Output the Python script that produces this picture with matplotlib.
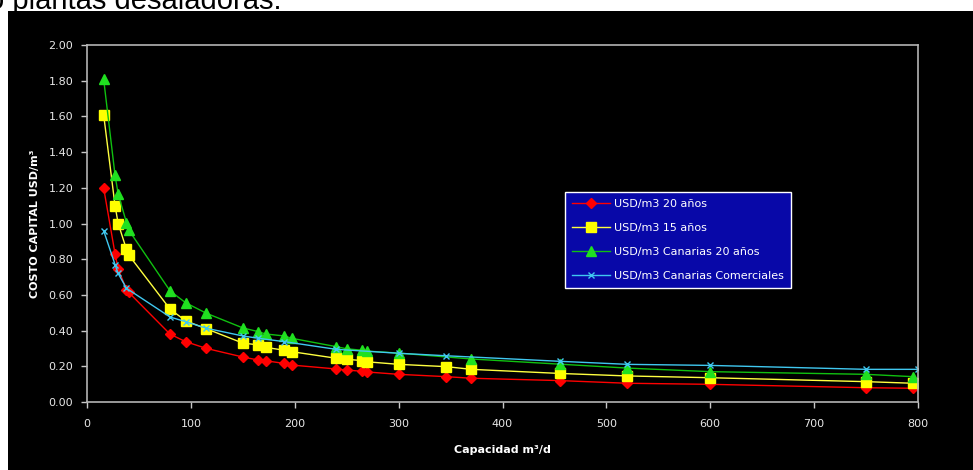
import matplotlib.pyplot as plt
from matplotlib.patches import Rectangle

# Capital cost of desalination plants against plant capacity.

cap_main = [16, 27, 30, 38, 40, 80, 95, 115, 150, 165, 172, 190, 197,
            240, 250, 265, 270, 300, 346, 370, 455, 520, 600, 750, 795]
usd_20 = [1.20, 0.83, 0.745, 0.63, 0.615, 0.38, 0.338, 0.30, 0.252, 0.235, 0.231, 0.216, 0.207,
          0.185, 0.179, 0.172, 0.168, 0.155, 0.142, 0.133, 0.12, 0.105, 0.099, 0.08, 0.077]
usd_15 = [1.61, 1.10, 1.00, 0.855, 0.825, 0.52, 0.455, 0.41, 0.33, 0.32, 0.306, 0.29, 0.282,
          0.245, 0.239, 0.232, 0.225, 0.211, 0.198, 0.183, 0.16, 0.146, 0.136, 0.114, 0.105]

cap_green = [16, 27, 30, 38, 40, 80, 95, 115, 150, 165, 172, 190, 197,
             240, 250, 265, 270, 300, 370, 455, 520, 600, 750, 795]
canarias_20 = [1.81, 1.27, 1.165, 1.005, 0.965, 0.622, 0.556, 0.497, 0.415, 0.394, 0.381, 0.37, 0.357,
               0.31, 0.298, 0.29, 0.285, 0.274, 0.241, 0.212, 0.19, 0.17, 0.155, 0.142]

cap_cyan = [16, 27, 30, 38, 80, 95, 115, 150, 165, 190, 240, 300, 346, 455, 520, 600, 750, 800]
canarias_com = [0.96, 0.77, 0.72, 0.637, 0.476, 0.45, 0.413, 0.37, 0.357, 0.338, 0.295, 0.273,
                0.259, 0.228, 0.211, 0.205, 0.183, 0.183]

x_ticks = [0, 100, 200, 300, 400, 500, 600, 700, 800]
y_ticks = [0.0, 0.2, 0.4, 0.6, 0.8, 1.0, 1.2, 1.4, 1.6, 1.8, 2.0]

plt.rcParams['font.family'] = ['DejaVu Sans']

W, H = 973, 470
fig = plt.figure(figsize=(W / 100, H / 100), dpi=100, facecolor='white')

# Cut-off heading text, then the black chart panel drawn over its bottom.
fig.text(282 / W, (H - 9) / H, 'o plantas desaladoras.', ha='right', va='baseline',
         fontsize=21, color='black', family=['Liberation Sans', 'DejaVu Sans'], zorder=-2)
fig.patches.append(Rectangle((8 / W, 0), 1 - 8 / W, (H - 11) / H,
                             transform=fig.transFigure, facecolor='black',
                             edgecolor='none', zorder=-1))

ax = fig.add_axes([87 / W, (H - 402) / H, (918 - 87) / W, (402 - 45) / H])
ax.set_zorder(1)
ax.set_facecolor('black')

ax.plot(cap_main, usd_20, color='#ff0000', lw=1, marker='D', ms=5.5,
        label='USD/m3 20 años')
ax.plot(cap_main, usd_15, color='#ffff40', lw=1, marker='s', ms=6.5,
        mfc='#ffff00', mec='#ffff00', label='USD/m3 15 años')
ax.plot(cap_green, canarias_20, color='#10c010', lw=1, marker='^', ms=7,
        mfc='#20e020', mec='#20e020', label='USD/m3 Canarias 20 años')
ax.plot(cap_cyan, canarias_com, color='#40c8f0', lw=1, marker='x', ms=5,
        mew=1, label='USD/m3 Canarias Comerciales')

# Axis ranges and ticks.
ax.set_xlim(0, 800)
ax.set_ylim(0, 2.0)
ax.set_xticks(x_ticks)
ax.set_yticks(y_ticks)
ax.set_yticklabels([f'{v:.2f}' for v in y_ticks])
ax.tick_params(colors='#c8c8c8', labelcolor='#e8e8e8', labelsize=8,
               direction='out', length=4, width=1)
ax.tick_params(axis='x', pad=8)
ax.tick_params(axis='y', pad=6)
for side in ['left', 'bottom', 'top', 'right']:
    ax.spines[side].set_color('#b4b4b4')
    ax.spines[side].set_linewidth(1.2)

ax.set_xlabel('Capacidad m³/d', fontsize=8, fontweight='bold', color='white', labelpad=12)
ax.set_ylabel('COSTO CAPITAL USD/m³', fontsize=8, fontweight='bold', color='white', labelpad=6)

leg = ax.legend(loc='upper left', bbox_to_anchor=((565 - 87) / 831, (402 - 192) / 357),
                fontsize=8, frameon=True, fancybox=False, facecolor='#0808a8',
                edgecolor='white', labelcolor='white', handlelength=3.4,
                labelspacing=1.25, borderpad=0.65, handletextpad=0.35, borderaxespad=0)
leg.get_frame().set_linewidth(1)
leg.get_frame().set_alpha(1)

fig.savefig('out.png', dpi=100, facecolor=fig.get_facecolor())
